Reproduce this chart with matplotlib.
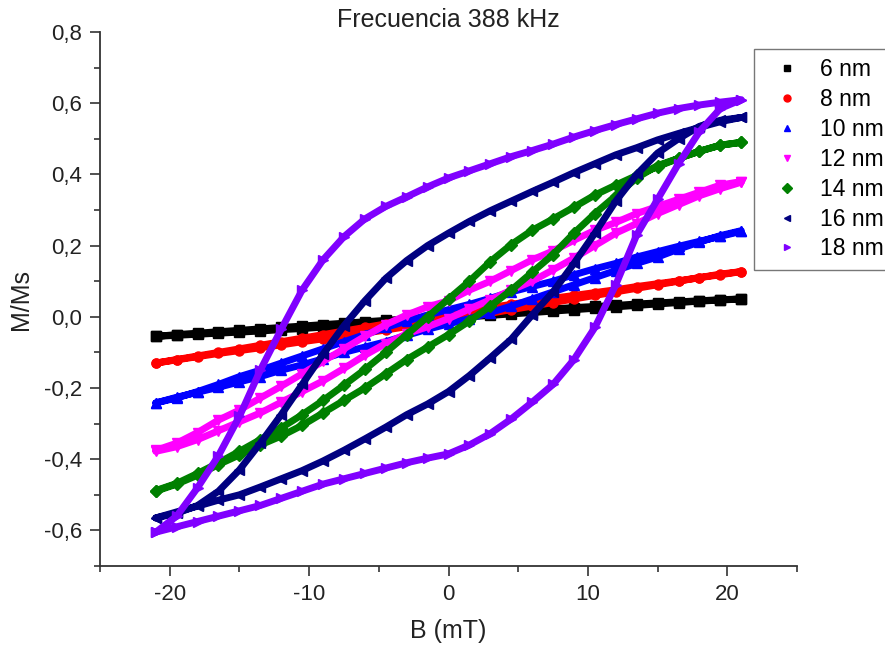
import numpy as np
import matplotlib
matplotlib.use('Agg')
import matplotlib.pyplot as plt
from matplotlib.lines import Line2D
from matplotlib.ticker import MultipleLocator, FuncFormatter

plt.rcParams['font.family'] = ['Liberation Sans', 'DejaVu Sans']
plt.rcParams['axes.unicode_minus'] = False

## field grid (mT), shared by every branch
field = [-21, -19.5, -18, -16.5, -15, -13.5, -12, -10.5, -9, -7.5, -6, -4.5, -3, -1.5, 0,
         1.5, 3, 4.5, 6, 7.5, 9, 10.5, 12, 13.5, 15, 16.5, 18, 19.5, 21]

## M/Ms: "up" = branch coming down from +B, "low" = branch going up from -B
m6_up = [-0.055, -0.050, -0.046, -0.042, -0.038, -0.034, -0.030, -0.026, -0.022, -0.018, -0.014, -0.010, -0.006, -0.002, 0.003,
         0.007, 0.011, 0.015, 0.019, 0.022, 0.026, 0.029, 0.032, 0.036, 0.039, 0.042, 0.045, 0.048, 0.050]
m6_low = [-0.055, -0.052, -0.049, -0.046, -0.043, -0.040, -0.036, -0.033, -0.029, -0.026, -0.022, -0.018, -0.014, -0.009, -0.004,
          0.000, 0.004, 0.008, 0.012, 0.016, 0.020, 0.024, 0.028, 0.032, 0.036, 0.040, 0.044, 0.047, 0.050]

m8_up = [-0.130, -0.120, -0.110, -0.100, -0.090, -0.080, -0.070, -0.060, -0.050, -0.040, -0.030, -0.020, -0.010, 0.000, 0.008,
         0.017, 0.026, 0.035, 0.044, 0.052, 0.060, 0.068, 0.076, 0.085, 0.093, 0.101, 0.110, 0.118, 0.127]
m8_low = [-0.130, -0.121, -0.112, -0.103, -0.095, -0.087, -0.079, -0.070, -0.062, -0.054, -0.046, -0.037, -0.028, -0.019, -0.010,
          0.000, 0.010, 0.020, 0.030, 0.040, 0.050, 0.060, 0.070, 0.080, 0.090, 0.100, 0.110, 0.120, 0.127]

m10_up = [-0.242, -0.228, -0.210, -0.190, -0.168, -0.150, -0.130, -0.110, -0.090, -0.070, -0.050, -0.030, -0.012, 0.005, 0.020,
          0.035, 0.052, 0.070, 0.085, 0.100, 0.118, 0.135, 0.150, 0.168, 0.183, 0.198, 0.212, 0.226, 0.240]
m10_low = [-0.242, -0.226, -0.212, -0.198, -0.183, -0.168, -0.150, -0.135, -0.118, -0.100, -0.085, -0.070, -0.052, -0.035, -0.020,
           -0.005, 0.012, 0.030, 0.050, 0.070, 0.090, 0.110, 0.130, 0.150, 0.168, 0.190, 0.210, 0.228, 0.242]

m12_up = [-0.375, -0.355, -0.325, -0.290, -0.262, -0.228, -0.195, -0.160, -0.125, -0.090, -0.055, -0.022, 0.005, 0.028, 0.045,
          0.075, 0.100, 0.130, 0.160, 0.185, 0.215, 0.243, 0.265, 0.290, 0.310, 0.330, 0.350, 0.370, 0.380]
m12_low = [-0.378, -0.365, -0.345, -0.320, -0.295, -0.270, -0.240, -0.210, -0.180, -0.145, -0.108, -0.075, -0.048, -0.028, -0.005,
           0.022, 0.048, 0.075, 0.100, 0.132, 0.165, 0.200, 0.235, 0.262, 0.290, 0.315, 0.340, 0.360, 0.378]

m14_up = [-0.488, -0.468, -0.440, -0.410, -0.378, -0.345, -0.312, -0.275, -0.235, -0.192, -0.148, -0.100, -0.050, 0.000, 0.050,
          0.100, 0.155, 0.203, 0.243, 0.275, 0.308, 0.342, 0.370, 0.397, 0.422, 0.445, 0.465, 0.482, 0.490]
m14_low = [-0.490, -0.470, -0.445, -0.415, -0.388, -0.360, -0.335, -0.305, -0.270, -0.235, -0.200, -0.160, -0.120, -0.085, -0.050,
           -0.012, 0.030, 0.075, 0.125, 0.175, 0.235, 0.290, 0.340, 0.390, 0.425, 0.445, 0.465, 0.482, 0.490]

m16_up = [-0.565, -0.552, -0.530, -0.490, -0.430, -0.355, -0.275, -0.190, -0.105, -0.025, 0.045, 0.108, 0.158, 0.200, 0.235,
          0.268, 0.298, 0.325, 0.352, 0.378, 0.405, 0.430, 0.455, 0.475, 0.497, 0.515, 0.532, 0.548, 0.560]
m16_low = [-0.565, -0.548, -0.532, -0.515, -0.500, -0.478, -0.455, -0.432, -0.405, -0.375, -0.343, -0.310, -0.275, -0.245, -0.210,
           -0.165, -0.115, -0.063, 0.005, 0.070, 0.150, 0.235, 0.325, 0.400, 0.460, 0.500, 0.535, 0.552, 0.560]

m18_up = [-0.605, -0.560, -0.480, -0.390, -0.280, -0.150, -0.035, 0.075, 0.160, 0.225, 0.275, 0.310, 0.337, 0.365, 0.390,
          0.410, 0.430, 0.450, 0.467, 0.485, 0.505, 0.523, 0.540, 0.556, 0.572, 0.585, 0.595, 0.603, 0.610]
m18_low = [-0.605, -0.590, -0.575, -0.560, -0.545, -0.530, -0.510, -0.490, -0.470, -0.455, -0.440, -0.425, -0.410, -0.397, -0.385,
           -0.360, -0.328, -0.287, -0.240, -0.190, -0.120, -0.030, 0.090, 0.230, 0.330, 0.430, 0.520, 0.585, 0.610]

labels = ['6 nm', '8 nm', '10 nm', '12 nm', '14 nm', '16 nm', '18 nm']
colors = ['#000000', '#ff0000', '#0000ff', '#ff00ff', '#008000', '#000080', '#8000ff']
markers = ['s', 'o', '^', 'v', 'D', '<', '>']

ups = [m6_up, m8_up, m10_up, m12_up, m14_up, m16_up, m18_up]
lows = [m6_low, m8_low, m10_low, m12_low, m14_low, m16_low, m18_low]

fig = plt.figure(figsize=(8.85, 6.53), dpi=100)
ax = fig.add_axes([100 / 885, 1 - 566 / 653, 697 / 885, 534 / 653])

B = np.array(field)
for up, low, c, m in zip(ups, lows, colors, markers):
    # loop: rising branch then falling branch
    xs = np.concatenate([B, B[::-1]])
    ys = np.concatenate([np.array(low), np.array(up)[::-1]])
    ax.plot(xs, ys, color=c, lw=5, marker=m, markersize=6.5,
            solid_joinstyle='round', solid_capstyle='round')

ax.set_xlim(-25, 25)
ax.set_ylim(-0.7, 0.8)

for s in ['top', 'right']:
    ax.spines[s].set_visible(False)
for s in ['left', 'bottom']:
    ax.spines[s].set_color('#333333')
    ax.spines[s].set_linewidth(1.3)

ax.xaxis.set_major_locator(MultipleLocator(10))
ax.xaxis.set_minor_locator(MultipleLocator(5))
ax.yaxis.set_major_locator(MultipleLocator(0.2))
ax.yaxis.set_minor_locator(MultipleLocator(0.1))
ax.yaxis.set_major_formatter(FuncFormatter(lambda v, p: f'{v:.1f}'.replace('.', ',')))
ax.xaxis.set_major_formatter(FuncFormatter(lambda v, p: f'{v:.0f}'))

ax.tick_params(which='major', direction='out', length=7, width=1.2, color='#333333',
               labelsize=16, labelcolor='#222222', pad=6)
ax.tick_params(which='minor', direction='out', length=4, width=1.2, color='#333333')

ax.set_xlabel('B (mT)', fontsize=18, color='#222222', labelpad=10)
ax.set_ylabel('M/Ms', fontsize=18, color='#222222', labelpad=8)
ax.set_title('Frecuencia 388 kHz', fontsize=18, color='#222222', pad=2)

handles = [Line2D([], [], color=c, marker=m, linestyle='none', markersize=5)
           for c, m in zip(colors, markers)]
leg = fig.legend(handles, labels, loc='upper left', bbox_to_anchor=(754 / 885, 1 - 49 / 653),
                 bbox_transform=fig.transFigure, borderaxespad=0, fontsize=16.5,
                 handlelength=2.1, handletextpad=0.4, labelspacing=0.3,
                 fancybox=False, frameon=True, borderpad=0.4)
leg.get_frame().set_edgecolor('#555555')
leg.get_frame().set_linewidth(1.0)

fig.savefig('out.png', dpi=100)
